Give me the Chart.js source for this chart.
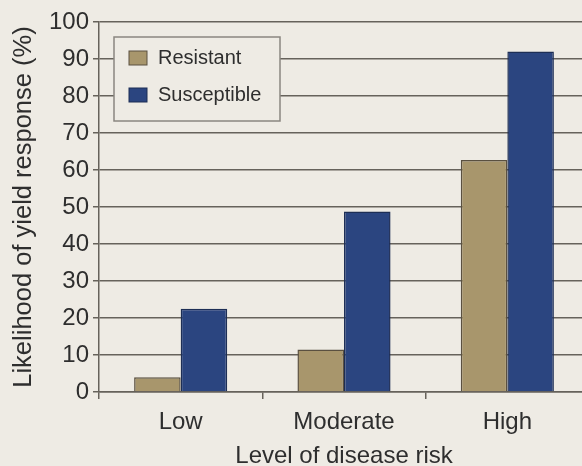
<!DOCTYPE html>
<html>
<head>
<meta charset="utf-8">
<script src="https://cdn.jsdelivr.net/npm/chart.js@4.4.1/dist/chart.umd.min.js"></script>
<style>
  html, body { margin: 0; padding: 0; overflow: hidden; background: #eeebe4; }
  canvas { display: block; }
</style>
</head>
<body>
<canvas id="riskChart" width="600" height="472" style="width:600px;height:472px"></canvas>
<script>
// Chart data
const categories = ['Low', 'Moderate', 'High'];
const resistantValues = [4, 11.5, 62.7];
const susceptibleValues = [22.5, 48.8, 92];
const yMin = 0;
const yMax = 100;
const yStep = 10;

const FONT = '"Liberation Sans", Arial, sans-serif';
const TEXT = '#2e2e2e';
const LINE = '#66625b';
const BG = '#eeebe4';

// Legend drawn inside the plot, top left
const legendBox = {
  id: 'legendBox',
  afterDraw(chart) {
    const ctx = chart.ctx;
    const area = chart.chartArea;
    const x = area.left + 15;
    const y = area.top + 15;
    const w = 166;
    const h = 84;
    ctx.save();
    ctx.fillStyle = BG;
    ctx.fillRect(x, y, w, h);
    ctx.strokeStyle = '#8a8780';
    ctx.lineWidth = 1.5;
    ctx.strokeRect(x, y, w, h);
    ctx.font = '20px ' + FONT;
    ctx.textBaseline = 'middle';
    chart.data.datasets.forEach(function(ds, i) {
      const cy = y + 21 + i * 37;
      ctx.fillStyle = ds.backgroundColor;
      ctx.fillRect(x + 15, cy - 7, 18, 14);
      ctx.strokeStyle = ds.borderColor;
      ctx.lineWidth = 1;
      ctx.strokeRect(x + 15, cy - 7, 18, 14);
      ctx.fillStyle = TEXT;
      ctx.fillText(ds.label, x + 44, cy);
    });
    ctx.restore();
  }
};

const ctx = document.getElementById('riskChart').getContext('2d');

new Chart(ctx, {
  type: 'bar',
  data: {
    labels: categories,
    datasets: [{
      label: 'Resistant',
      data: resistantValues,
      backgroundColor: '#a8966c',
      borderColor: '#5a5040',
      borderWidth: 1.5
    }, {
      label: 'Susceptible',
      data: susceptibleValues,
      backgroundColor: '#2b4580',
      borderColor: '#1d2e55',
      borderWidth: 1.5
    }]
  },
  options: {
    responsive: false,
    animation: false,
    layout: {
      padding: { top: 22, right: 11, left: 0, bottom: 0 }
    },
    datasets: {
      bar: {
        categoryPercentage: 0.57,
        barPercentage: 1.0
      }
    },
    scales: {
      x: {
        afterFit: function(scale) { scale.height = 80; },
        grid: {
          display: true,
          drawOnChartArea: false,
          drawTicks: true,
          tickLength: 7,
          color: LINE,
          lineWidth: 1.5,
          offset: true
        },
        border: { display: true, color: LINE, width: 1.5 },
        ticks: {
          color: TEXT,
          font: { family: FONT, size: 24 },
          padding: 9
        },
        title: {
          display: true,
          text: 'Level of disease risk',
          color: TEXT,
          font: { family: FONT, size: 24 },
          padding: { top: 0, bottom: 1 }
        }
      },
      y: {
        min: yMin,
        max: yMax,
        afterFit: function(scale) { scale.width = 99; },
        grid: {
          color: LINE,
          lineWidth: 1.5,
          tickLength: 6
        },
        border: { display: true, color: LINE, width: 1.5 },
        ticks: {
          stepSize: yStep,
          color: TEXT,
          font: { family: FONT, size: 24 },
          padding: 4
        },
        title: {
          display: true,
          text: 'Likelihood of yield response (%)',
          color: TEXT,
          font: { family: FONT, size: 25.5 },
          padding: { top: 9, bottom: 0 }
        }
      }
    },
    plugins: {
      legend: { display: false },
      tooltip: { enabled: false }
    }
  },
  plugins: [legendBox]
});
</script>
</body>
</html>
